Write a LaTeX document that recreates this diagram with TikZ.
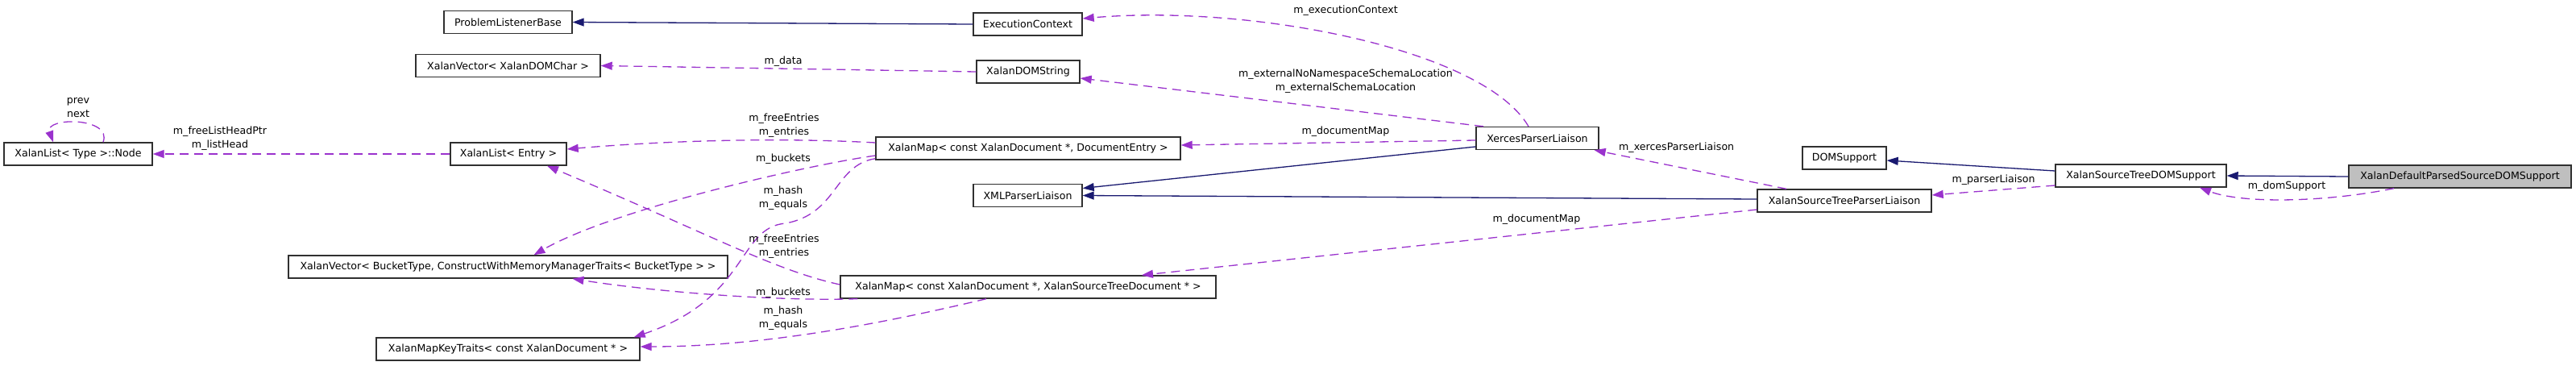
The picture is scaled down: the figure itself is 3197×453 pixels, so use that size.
\documentclass[tikz,border=0pt]{standalone}
\usepackage{fontspec}
\setmainfont{DejaVu Sans}
\usetikzlibrary{arrows.meta,calc}
\definecolor{inhcol}{HTML}{191970}
\definecolor{usecol}{HTML}{9A32CD}
\definecolor{boxcol}{HTML}{303030}
\definecolor{selcol}{HTML}{BFBFBF}
\begin{document}
\begin{tikzpicture}[x=1pt,y=-1pt,
  every node/.style={font=\fontsize{12.6}{17}\selectfont},
  cls/.style={draw=boxcol,line width=1.4pt,fill=white,minimum height=28pt,inner sep=0pt,anchor=center},
  sel/.style={cls,fill=selcol},
  inh/.style={draw=inhcol,line width=1.3pt,-{Triangle[length=14pt,width=10pt]}},
  use/.style={draw=usecol,line width=1.3pt,dash pattern=on 11pt off 7pt,-{Triangle[length=14pt,width=10pt]}},
  lbl/.style={align=center,inner sep=0pt}]
\useasboundingbox (0,0) rectangle (3197,453);
\fill[white] (0,0) rectangle (3197,453);
% nodes
\node[cls,minimum width=159pt] (PLB) at (630.5,27.5) {ProblemListenerBase};
\node[cls,minimum width=135pt] (EC) at (1275.5,30) {ExecutionContext};
\node[cls,minimum width=229pt] (XVD) at (630.5,81.5) {XalanVector< XalanDOMChar >};
\node[cls,minimum width=128pt] (XDS) at (1276,89) {XalanDOMString};
\node[cls,minimum width=184pt] (Nd) at (97,191) {XalanList< Type >::Node};
\node[cls,minimum width=144pt] (Entry) at (631,191) {XalanList< Entry >};
\node[cls,minimum width=378pt] (Map1) at (1276,184) {XalanMap< const XalanDocument *, DocumentEntry >};
\node[cls,minimum width=135pt] (XML) at (1275.5,242.5) {XMLParserLiaison};
\node[cls,minimum width=152pt] (XPL) at (1908,171.5) {XercesParserLiaison};
\node[cls,minimum width=545pt] (VB) at (630.5,331) {XalanVector< BucketType, ConstructWithMemoryManagerTraits< BucketType > >};
\node[cls,minimum width=466pt] (Map2) at (1276,356) {XalanMap< const XalanDocument *, XalanSourceTreeDocument * >};
\node[cls,minimum width=327pt] (MKT) at (630.5,433) {XalanMapKeyTraits< const XalanDocument * >};
\node[cls,minimum width=216pt] (STPL) at (2289,249) {XalanSourceTreeParserLiaison};
\node[cls,minimum width=104pt] (DOMS) at (2289,196) {DOMSupport};
\node[cls,minimum width=212pt] (STDS) at (2657,218) {XalanSourceTreeDOMSupport};
\node[sel,minimum width=276pt] (XDP) at (3053,219) {XalanDefaultParsedSourceDOMSupport};
% inheritance
\draw[inh] (EC.west) -- (PLB.east);
\draw[inh] ($(XPL.west)+(0,10.5)$) -- ($(XML.east)+(0,-9)$);
\draw[inh] ($(STPL.west)+(0,-2)$) -- (XML.east);
\draw[inh] ($(STDS.west)+(0,-6)$) -- ($(DOMS.east)+(0,3)$);
\draw[inh] (XDP.west) -- (STDS.east);
% usage
\draw[use] (XDS.west) -- (XVD.east);
\node[lbl] (l1) at (972,76) {m\_data};
\draw[use] ($(XPL.north)+(-11,0)$) .. controls (1840,60) and (1550,5) .. ($(EC.east)+(0,-7)$);
\node[lbl] (l2) at (1670,13) {m\_executionContext};
\draw[use] ($(XPL.north)+(-67,0)$) -- ($(XDS.east)+(0,8)$);
\node[lbl] (l3) at (1670,100.5) {m\_externalNoNamespaceSchemaLocation\\m\_externalSchemaLocation};
\draw[use] ($(XPL.west)+(0,2.5)$) -- ($(Map1.east)+(0,-4)$);
\node[lbl] (l4) at (1670,163) {m\_documentMap};
\draw[use] ($(STPL.north)+(-72,0)$) -- ($(XPL.south east)+(-6,0)$);
\node[lbl,anchor=west] (l5) at (2009,183) {m\_xercesParserLiaison};
\draw[use] ($(STPL.west)+(0,11)$) -- ($(Map2.north)+(141,0)$);
\node[lbl] (l6) at (1907,272) {m\_documentMap};
\draw[use] ($(STDS.west)+(0,12)$) -- ($(STPL.east)+(0,-7)$);
\node[lbl] (l7) at (2474,223) {m\_parserLiaison};
\draw[use] ($(XDP.south)+(-82,0)$) .. controls (2880,252) and (2780,252) .. ($(STDS.south)+(73,0)$);
\node[lbl] (l8) at (2838,231) {m\_domSupport};
\draw[use] (Entry.west) -- (Nd.east);
\node[lbl] (l9) at (273,171.5) {m\_freeListHeadPtr\\m\_listHead};
\draw[use] ($(Nd.north)+(31,0)$) .. controls (140,145) and (55,145) .. ($(Nd.north)+(-31,0)$);
\node[lbl] (l10) at (97,134) {prev\\next};
\draw[use] ($(Map1.west)+(0,-7)$) .. controls (960,170) and (820,175) .. ($(Entry.east)+(0,-6)$);
\node[lbl] (l11) at (973,156) {m\_freeEntries\\m\_entries};
\draw[use] ($(Map1.west)+(0,9)$) .. controls (1000,205) and (760,260) .. ($(VB.north)+(32,0)$);
\node[lbl] (l12) at (972,197) {m\_buckets};
\draw[use] ($(Map1.south west)+(0,-2)$) .. controls (1035,205) and (1040,265) .. (975,277) .. controls (915,282) and (930,370) .. ($(MKT.north east)+(-8,0)$);
\node[lbl] (l13) at (972,245.5) {m\_hash\\m\_equals};
\draw[use] ($(Map2.west)+(0,-3)$) .. controls (960,335) and (880,290) .. ($(Entry.south)+(48,0)$);
\node[lbl] (l14) at (973,305.5) {m\_freeEntries\\m\_entries};
\draw[use] ($(Map2.south west)+(22,0)$) .. controls (950,374) and (800,360) .. ($(VB.south)+(80,0)$);
\node[lbl] (l15) at (972,363) {m\_buckets};
\draw[use] ($(Map2.south)+(-52,0)$) .. controls (1100,400) and (950,430) .. ($(MKT.east)+(0,-3)$);
\node[lbl] (l16) at (972,395) {m\_hash\\m\_equals};
\end{tikzpicture}
\end{document}
